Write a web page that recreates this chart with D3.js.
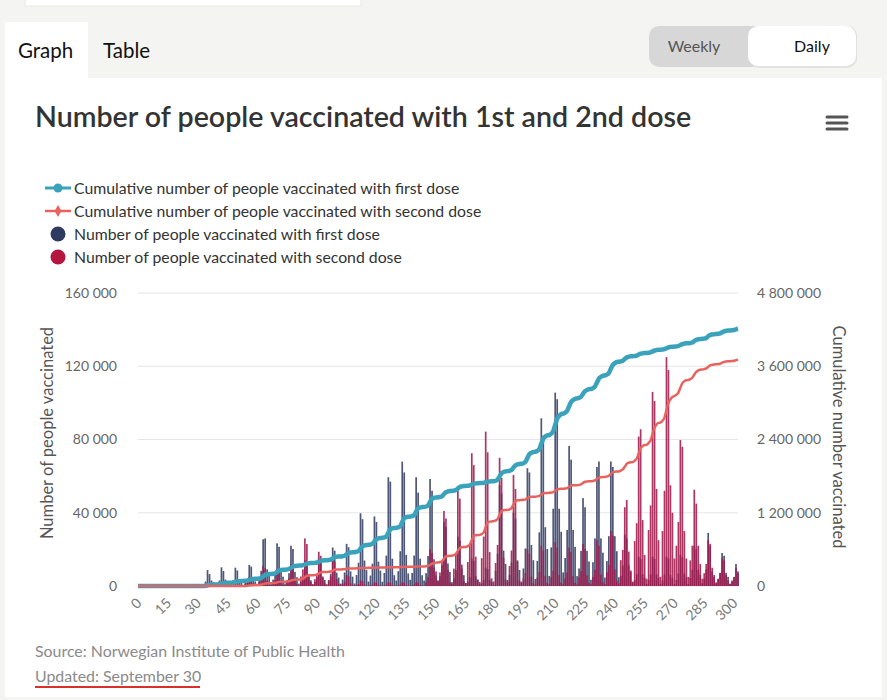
<!DOCTYPE html>
<html><head><meta charset="utf-8">
<script src="https://cdn.jsdelivr.net/npm/d3@7"></script>
<style>
html,body{margin:0;padding:0;background:#f4f4f2;}
svg{display:block;font-family:Lato,"Noto Sans",sans-serif;}
</style></head><body>
<svg id="chart" width="887" height="700"></svg>
<script>
// ---------- DATA (daily values in thousands of people, day index 0..302) ----------
const firstDoseDailyK = [
0,0,0,0,0,0,0,0,0,0,0,0,0,0,0,0,0,0,0,0,0,0,0,0,0,0,0,0,0,0,0,0,0,
1.0,2.5,8.7,6.5,3.0,2.0,0.5,
1.5,3.0,10.2,8.2,3.5,2.2,0.6,
1.5,3.2,10.0,8.5,3.4,2.3,0.6,
1.8,3.6,11.5,10.6,4.0,2.5,0.7,
3.9,8.3,25.5,26.0,9.1,5.7,1.5,
3.5,7.4,23.3,21.4,8.1,5.1,1.4,
3.3,7.0,22.0,20.2,7.7,4.8,1.3,
2.1,4.5,14.0,12.9,4.9,3.1,0.8,
2.3,4.8,15.0,13.8,5.2,3.3,0.9,
3.2,6.7,21.0,19.3,7.3,4.6,1.3,
3.5,7.4,23.0,21.2,8.0,5.1,1.4,
6.0,12.7,39.7,36.5,13.9,8.7,2.4,
5.7,12.2,38.0,35.0,13.3,8.4,2.3,
7.1,16.6,59.4,57.0,14.9,5.9,3.0,
8.1,19.0,67.9,62.0,17.0,6.8,3.4,
7.1,16.6,59.4,51.0,14.9,5.9,3.0,
7.0,16.4,58.4,52.0,14.6,5.8,2.9,
5.3,11.2,35.0,32.2,12.3,7.7,2.1,
4.1,8.6,27.0,24.8,9.5,5.9,1.6,
2.3,4.8,15.0,13.8,5.3,3.3,0.9,
1.5,3.2,10.0,9.2,3.5,2.2,0.6,
8.3,17.6,55.0,50.6,19.3,12.1,3.3,
6.0,12.8,40.0,36.8,14.0,8.8,2.4,
9.6,20.5,64.3,62.0,22.4,14.1,3.8,
13.7,29.3,91.6,82.0,32.1,20.2,5.5,
21.1,42.2,105.6,102.0,42.2,29.6,7.4,
15.3,30.6,76.5,69.0,30.6,21.4,5.4,
9.6,19.2,48.0,43.0,19.2,13.4,3.4,
13.0,26.0,65.0,68.0,26.0,18.2,4.6,
13.6,27.2,68.0,65.0,27.2,19.0,4.8,
5.6,11.2,28.0,25.8,11.2,7.8,2.0,
3.2,6.4,16.0,14.7,6.4,4.5,1.1,
3.2,6.4,16.0,14.7,6.4,4.5,1.1,
3.0,6.2,16.0,15.0,6.0,4.3,1.0,
3.3,6.8,17.0,15.6,6.8,4.8,1.2,
4.4,8.8,22.0,20.2,8.8,6.2,1.5,
4.0,9.0,29.0,22.0,8.0,5.0,1.5,
3.6,7.2,18.0,16.5,7.2,5.0,1.3,
2.4,4.8,12.0,8.0
];
const secondDoseDailyK = [
0,0,0,0,0,0,0,0,0,0,0,0,0,0,0,0,0,0,0,0,0,0,0,0,0,0,0,0,0,0,0,0,0,
0,0,0,0,0,0,0,
0,0,0,0,0,0,0,
0,0,0,0,0.1,0.2,0.3,
1.0,1.8,5.0,4.4,1.3,0.4,0.2,
2.2,3.9,11.0,9.7,2.8,0.9,0.4,
1.8,3.2,9.0,7.9,2.3,0.7,0.4,
2.4,4.2,12.0,10.6,3.0,1.0,0.5,
5.2,9.1,26.0,22.9,6.5,2.1,1.0,
3.7,6.5,18.7,16.5,4.7,1.5,0.7,
3.0,5.3,15.0,13.2,3.8,1.2,0.6,
1.2,2.1,6.0,5.3,1.5,0.5,0.2,
0.6,1.1,3.0,2.6,0.8,0.2,0.1,
0.4,0.7,2.0,1.8,0.5,0.2,0.1,
0.4,0.7,2.0,1.8,0.5,0.2,0.1,
0.4,0.7,2.0,1.8,0.5,0.2,0.1,
0.4,0.7,2.0,1.8,0.5,0.2,0.1,
2.0,5.0,20.0,18.0,10.0,8.0,3.0,
7.4,13.1,41.0,36.9,9.0,2.1,1.2,
9.5,17.0,53.0,47.7,11.7,2.7,1.6,
13.1,23.2,72.5,66.0,16.0,3.6,2.2,
15.2,27.0,84.3,73.0,18.5,4.2,2.5,
12.6,22.4,70.0,59.0,15.4,3.5,2.1,
10.9,19.4,60.6,53.0,13.3,3.0,1.8,
4.0,7.0,20.0,17.6,5.0,1.6,0.8,
4.4,7.7,22.0,19.4,5.5,1.8,0.9,
4.8,8.4,24.0,21.1,6.0,1.9,1.0,
4.2,7.4,21.0,18.5,5.3,1.7,0.8,
4.6,8.1,23.0,20.2,5.8,1.8,0.9,
5.0,8.8,25.0,22.0,6.3,2.0,1.0,
7.5,11.4,30.0,27.6,9.0,3.0,1.5,
14.1,19.7,43.0,47.0,18.8,8.5,2.4,
24.5,34.3,81.6,85.6,36.0,17.0,4.0,
30.6,44.0,106.0,101.0,53.0,25.0,5.0,
30.0,52.0,125.0,118.0,55.0,40.0,15.0,
22.0,35.0,79.7,76.0,30.0,15.0,5.0,
14.0,22.0,52.6,45.0,22.0,12.0,4.0,
7.0,12.0,25.0,23.0,10.0,6.0,2.0,
4.0,7.0,15.0,14.0,6.0,3.0,1.0,
3.0,5.0,10.0,7.0
];
const xTickValues = [0,15,30,45,60,75,90,105,120,135,150,165,180,195,210,225,240,255,270,285,300];
const leftTickValues = [0,40000,80000,120000,160000];
const rightTickValues = [0,1200000,2400000,3600000,4800000];
const legendLabels = [
  "Cumulative number of people vaccinated with first dose",
  "Cumulative number of people vaccinated with second dose",
  "Number of people vaccinated with first dose",
  "Number of people vaccinated with second dose"
];
const titleText = "Number of people vaccinated with 1st and 2nd dose";
const leftAxisTitle = "Number of people vaccinated";
const rightAxisTitle = "Cumulative number vaccinated";
const sourceText = "Source: Norwegian Institute of Public Health";
const updatedText = "Updated: September 30";

(function(){
// ---------- DERIVED ----------
const firstDaily = firstDoseDailyK.map(v => v * 1000);
const secondDaily = secondDoseDailyK.map(v => v * 1000);
const firstCum = Array.from(d3.cumsum(firstDaily));
const secondCum = Array.from(d3.cumsum(secondDaily));
const days = d3.range(firstDaily.length);

const C = {teal:"#3aa2bb", salmon:"#e8625f", navy:"#2f3a60", crimson:"#b3173f", crimsonBar:"#a11b4d"};

const svg = d3.select("#chart");
const loc = d3.formatLocale({decimal:".", thousands:" ", grouping:[3], currency:["",""]});
const fmt = loc.format(",d");

// page chrome
svg.append("rect").attr("x",0).attr("y",0).attr("width",887).attr("height",700).attr("fill","#f4f4f2");
svg.append("rect").attr("x",25).attr("y",-10).attr("width",336).attr("height",16).attr("fill","#fff")
  .attr("stroke","#e6e6e4").attr("stroke-width",1);
svg.append("rect").attr("x",5).attr("y",78).attr("width",877).attr("height",619).attr("fill","#fff");
svg.append("rect").attr("x",5).attr("y",22).attr("width",83).attr("height",60).attr("fill","#fff");
svg.append("text").attr("x",18).attr("y",58).attr("font-size",20.5).attr("fill","#111").text("Graph");
svg.append("text").attr("x",103).attr("y",58).attr("font-size",20.5).attr("fill","#111").text("Table");
// toggle
svg.append("rect").attr("x",649).attr("y",26).attr("width",208).attr("height",41).attr("rx",10).attr("fill","#d7d7d7");
svg.append("rect").attr("x",749).attr("y",28).attr("width",108).attr("height",40).attr("rx",10).attr("fill","#e2e2e2");
svg.append("rect").attr("x",748).attr("y",26).attr("width",108).attr("height",40).attr("rx",10).attr("fill","#fff");
svg.append("text").attr("x",694).attr("y",52).attr("text-anchor","middle").attr("font-size",16).attr("fill","#555").text("Weekly");
svg.append("text").attr("x",812).attr("y",52).attr("text-anchor","middle").attr("font-size",16).attr("fill","#111").text("Daily");

// title
svg.append("text").attr("x",35).attr("y",127).attr("font-size",28.6).attr("font-weight",600).attr("fill","#333").text(titleText);
// hamburger
[117,123,129].forEach(y => svg.append("line").attr("x1",827).attr("x2",847).attr("y1",y).attr("y2",y)
  .attr("stroke","#555").attr("stroke-width",3).attr("stroke-linecap","round"));

// legend
const lg = svg.append("g").attr("font-size",15.8).attr("fill","#333");
const ly = [188,211,234,257];
lg.append("line").attr("x1",45).attr("x2",71).attr("y1",ly[0]).attr("y2",ly[0]).attr("stroke",C.teal).attr("stroke-width",3);
lg.append("circle").attr("cx",58).attr("cy",ly[0]).attr("r",4.5).attr("fill",C.teal);
lg.append("line").attr("x1",45).attr("x2",71).attr("y1",ly[1]).attr("y2",ly[1]).attr("stroke",C.salmon).attr("stroke-width",2.5);
lg.append("path").attr("d",d3.symbol(d3.symbolDiamond,40)()).attr("transform",`translate(58,${ly[1]})`).attr("fill",C.salmon);
lg.append("circle").attr("cx",58).attr("cy",ly[2]).attr("r",7.5).attr("fill",C.navy);
lg.append("circle").attr("cx",58).attr("cy",ly[3]).attr("r",7.5).attr("fill",C.crimson);
legendLabels.forEach((t,i) => lg.append("text").attr("x",74).attr("y",ly[i]).attr("dy","0.35em").text(t));

// scales
const pL = 138, pR = 738, pT = 293, pB = 586;
const x = d3.scaleLinear().domain([0, 302]).range([pL, pR]);
const yL = d3.scaleLinear().domain([0, 160000]).range([pB, pT]);
const yR = d3.scaleLinear().domain([0, 4800000]).range([pB, pT]);

// grid
svg.append("g").selectAll("line").data(leftTickValues).join("line")
  .attr("x1",pL).attr("x2",pR).attr("y1",d=>yL(d)).attr("y2",d=>yL(d))
  .attr("stroke","#e6e6e6").attr("stroke-width",1);

// axes
const axL = svg.append("g").attr("transform",`translate(${pL},0)`)
  .call(d3.axisLeft(yL).tickValues(leftTickValues).tickSize(0).tickPadding(21).tickFormat(fmt));
const axR = svg.append("g").attr("transform",`translate(${pR},0)`)
  .call(d3.axisRight(yR).tickValues(rightTickValues).tickSize(0).tickPadding(19).tickFormat(fmt));
[axL, axR].forEach(a => { a.select(".domain").remove(); a.selectAll("text").attr("font-size",14).attr("fill","#666").attr("font-family","Lato"); });

const axX = svg.append("g").attr("transform",`translate(0,${pB})`)
  .call(d3.axisBottom(x).tickValues(xTickValues).tickSize(0).tickFormat(d3.format("d")));
axX.select(".domain").remove();
axX.selectAll("text").attr("font-size",14).attr("fill","#7a7a7a").attr("font-family","Lato")
  .attr("text-anchor","end").attr("dy",0).attr("y",0)
  .attr("transform","translate(4,18) rotate(-45)");

// axis titles
svg.append("text").attr("transform","translate(53,433) rotate(-90)").attr("text-anchor","middle")
  .attr("font-size",16.5).attr("fill","#555").text(leftAxisTitle);
svg.append("text").attr("transform","translate(833,437) rotate(90)").attr("text-anchor","middle")
  .attr("font-size",16.5).attr("fill","#555").text(rightAxisTitle);

// bars
const bw = 1.7;
svg.append("g").selectAll("rect").data(days.filter(d=>firstDaily[d]>0)).join("rect")
  .attr("x",d=>x(d)-bw/2).attr("width",bw).attr("y",d=>yL(firstDaily[d])).attr("height",d=>pB-yL(firstDaily[d]))
  .attr("fill",C.navy).attr("fill-opacity",0.85);
svg.append("g").selectAll("rect").data(days.filter(d=>secondDaily[d]>0)).join("rect")
  .attr("x",d=>x(d)-bw/2).attr("width",bw).attr("y",d=>yL(secondDaily[d])).attr("height",d=>pB-yL(secondDaily[d]))
  .attr("fill",C.crimsonBar).attr("fill-opacity",0.88);

// cumulative lines
const line = d3.line().x(d=>x(d[0])).y(d=>yR(d[1])).curve(d3.curveMonotoneX);
svg.append("path").attr("d",line(days.map(d=>[d,firstCum[d]]))).attr("fill","none")
  .attr("stroke",C.teal).attr("stroke-width",4.5).attr("stroke-linejoin","round");
svg.append("path").attr("d",line(days.map(d=>[d,secondCum[d]]))).attr("fill","none")
  .attr("stroke",C.salmon).attr("stroke-width",2.5).attr("stroke-linejoin","round");

// footer
svg.append("text").attr("x",35).attr("y",657).attr("font-size",15.9).attr("fill","#8a8a8a").text(sourceText);
svg.append("text").attr("x",35).attr("y",682).attr("font-size",15.9).attr("fill","#8a8a8a").text(updatedText);
svg.append("line").attr("x1",35).attr("x2",200).attr("y1",687).attr("y2",687).attr("stroke","#d9302c").attr("stroke-width",2);
})();
</script>
</body></html>
